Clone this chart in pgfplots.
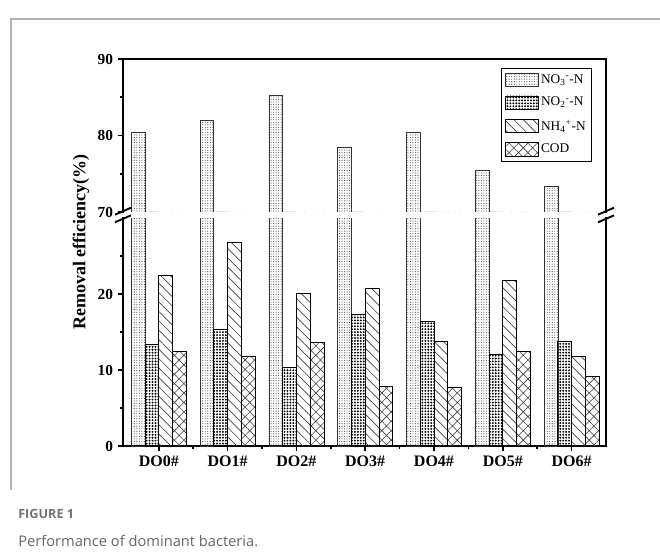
\documentclass[border=0pt]{standalone}
\usepackage{fontspec}
\setmainfont{Liberation Serif}
\newfontfamily\capfont{Open Sans}
\usepackage{pgfplots}
\usepackage{pgfplotstable}
\pgfplotsset{compat=1.18}
\usetikzlibrary{patterns.meta}

% removal efficiency (%) per reactor
\pgfplotstableread{
x no3 no2 nh4 cod
0 80.4 13.4 22.4 12.4
1 82.0 15.3 26.8 11.8
2 85.3 10.3 20.1 13.6
3 78.5 17.3 20.8 7.8
4 80.4 16.4 13.8 7.7
5 75.4 12.1 21.8 12.4
6 73.3 13.7 11.8 9.2
}\datatable

\newcommand{\ion}[2]{\textsubscript{#1}\textsuperscript{#2}}

\pgfplotsset{
  no3/.style={draw=black!80, line width=0.5pt, pattern={Dots[radius=0.4pt, distance=1.9pt]}, pattern color=black!75},
  no2/.style={draw=black, line width=0.6pt, pattern={Dots[radius=0.8pt, distance=2.2pt]}, pattern color=black},
  nh4/.style={draw=black, line width=0.6pt, pattern={Lines[angle=-45, distance=5pt, line width=0.5pt]}, pattern color=black!75},
  cod/.style={draw=black, line width=0.6pt, pattern={Hatch[angle=45, distance=5pt, line width=0.45pt]}, pattern color=black!75},
  common/.style={
    scale only axis, width=362.25pt,
    xmin=-0.52, xmax=6.5, enlargelimits=false,
    ybar, bar width=0.2,
    axis line style={line width=1.8pt, -, line cap=rect},
    tick style={line width=1.2pt, black},
    tick align=outside, major tick length=4pt, minor tick length=2.5pt,
    ticklabel style={font=\fontsize{11.5}{12}\selectfont\bfseries},
    /pgf/number format/assume math mode=true,
    ytick pos=left,
    legend image code/.code={\draw[#1] (0pt,-5pt) rectangle (24.75pt,5pt);},
  },
}

\begin{document}
\begin{tikzpicture}
\useasboundingbox (0,0) rectangle (495pt,418.5pt);

% light frame around the figure
\draw[black!30, line width=0.8pt] (8.25pt,51pt) -- (8.25pt,404.25pt) -- (495pt,404.25pt);

% upper segment: 70-90
\begin{axis}[common,
  at={(92.25pt,259.5pt)}, anchor=south west, height=114.75pt,
  ymin=70, ymax=90, ytick={70,80,90}, minor ytick={75,85},
  axis x line*=top, axis y line*=box, xtick=\empty,
  legend style={at={(rel axis cs:1,1)}, anchor=north east, xshift=-10.5pt, yshift=-6.75pt,
    draw=black, line width=0.5pt, font=\fontsize{10}{11}\selectfont,
    row sep=5pt, inner sep=2.5pt},
  legend cell align=left,
]
\addplot[no3, bar shift=-0.3] table[x=x, y=no3] {\datatable};
\addplot[no2, bar shift=-0.1] table[x=x, y=no2] {\datatable};
\addplot[nh4, bar shift=0.1] table[x=x, y=nh4] {\datatable};
\addplot[cod, bar shift=0.3] table[x=x, y=cod] {\datatable};
\addlegendentry{NO\ion{3}{-}-N}
\addlegendentry{NO\ion{2}{-}-N}
\addlegendentry{NH\ion{4}{+}-N}
\addlegendentry{COD}
\end{axis}

% lower segment: 0-30
\begin{axis}[common,
  at={(92.25pt,84pt)}, anchor=south west, height=171pt,
  ymin=0, ymax=30, ytick={0,10,20}, minor ytick={5,15,25},
  axis x line*=bottom, axis y line*=box,
  xtick={0,...,6}, minor xtick={0.5,1.5,...,5.5},
  xticklabels={DO0\#,DO1\#,DO2\#,DO3\#,DO4\#,DO5\#,DO6\#},
  xticklabel style={font=\fontsize{12}{13}\selectfont\bfseries},
]
\addplot[no3, bar shift=-0.3] table[x=x, y=no3] {\datatable};
\addplot[no2, bar shift=-0.1] table[x=x, y=no2] {\datatable};
\addplot[nh4, bar shift=0.1] table[x=x, y=nh4] {\datatable};
\addplot[cod, bar shift=0.3] table[x=x, y=cod] {\datatable};
\end{axis}

% axis break marks
\foreach \bx in {92.25pt, 454.5pt} {
  \draw[line width=1.4pt] ([xshift=-6pt, yshift=-2.6pt]\bx,254.4pt) -- ([xshift=6pt, yshift=2.6pt]\bx,254.4pt);
  \draw[line width=1.4pt] ([xshift=-6pt, yshift=-2.6pt]\bx,260.1pt) -- ([xshift=6pt, yshift=2.6pt]\bx,260.1pt);
}

% y axis title
\node[rotate=90, font=\fontsize{13.5}{14}\selectfont\bfseries] at (60.75pt,237pt) {Removal efficiency(\%)};

% caption
\node[anchor=base west, inner sep=0pt, text=black!55, font=\capfont\bfseries\fontsize{9.5}{10}\selectfont] at (13.5pt,29.5pt) {FIGURE 1};
\node[anchor=base west, inner sep=0pt, text=black!60, font=\capfont\fontsize{11}{12}\selectfont] at (13.5pt,8.5pt) {Performance of dominant bacteria.};
\end{tikzpicture}
\end{document}
